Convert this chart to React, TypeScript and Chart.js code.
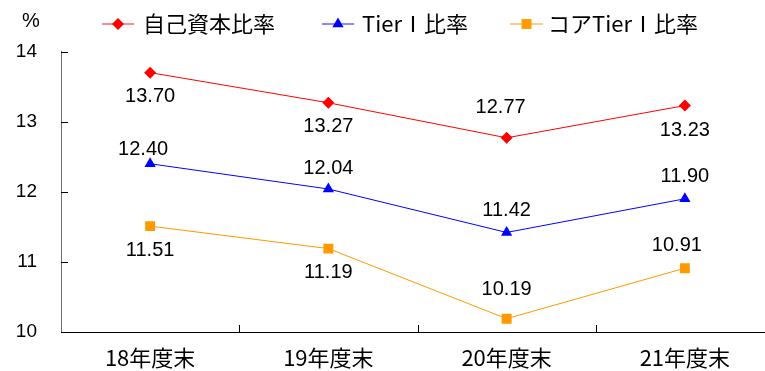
import React, { useEffect, useRef } from "react";
import { Chart, registerables } from "chart.js";

Chart.register(...registerables);

// ---- data ----
const categories = ["18年度末", "19年度末", "20年度末", "21年度末"];
const capitalRatio = [13.7, 13.27, 12.77, 13.23];
const tier1Ratio = [12.4, 12.04, 11.42, 11.9];
const coreTier1Ratio = [11.51, 11.19, 10.19, 10.91];
const seriesNames = ["自己資本比率", "TierⅠ比率", "コアTierⅠ比率"];
const yTicks = [10, 11, 12, 13, 14];
const yUnit = "%";

// ---- styling ----
const lineColors = ["#FF0000", "#0000FF", "#FF9900"];
const legendLineColors = ["#FF8C8C", "#8C8CFF", "#FFCC88"];
const pointStyles = ["rectRot", "triangle", "rect"];
const pointRadii = [6, 6.5, 7];
// label offsets (dx, dy) relative to point
const labelDx = [
  [0, 0, -6, 0],
  [-7, 0, 0, 0],
  [0, 0, 0, -8],
];
const labelDy = [
  [24, 24, -30, 25],
  [-14, -21, -22, -22],
  [24, 24, -29, -23],
];
const legendItems = [
  { x0: 102, x1: 134, tx: 143 },
  { x0: 322, x1: 354, tx: 362 },
  { x0: 510, x1: 543, tx: 548 },
];
const CJK = '"Noto Sans CJK JP", "Noto Sans", sans-serif';
const LAT = '"Liberation Sans", Arial, sans-serif';
const CANVAS_W = 781;

function drawMarker(ctx: CanvasRenderingContext2D, style: string, x: number, y: number, r: number, color: string) {
  ctx.fillStyle = color;
  ctx.beginPath();
  if (style === "rectRot") {
    ctx.moveTo(x, y - r);
    ctx.lineTo(x + r, y);
    ctx.lineTo(x, y + r);
    ctx.lineTo(x - r, y);
  } else if (style === "triangle") {
    ctx.moveTo(x, y - r);
    ctx.lineTo(x + r * 0.866, y + r * 0.5);
    ctx.lineTo(x - r * 0.866, y + r * 0.5);
  } else {
    const s = r * Math.SQRT1_2;
    ctx.rect(x - s, y - s, 2 * s, 2 * s);
  }
  ctx.closePath();
  ctx.fill();
}

const decorPlugin = {
  id: "decor",
  afterDraw(chart: any) {
    const ctx: CanvasRenderingContext2D = chart.ctx;
    const { left, bottom } = chart.chartArea;
    const xs = chart.scales.x;
    const ys = chart.scales.y;
    ctx.save();
    // inward tick marks
    ctx.lineWidth = 1;
    ctx.strokeStyle = "#000";
    yTicks.forEach((v) => {
      const py = Math.round(ys.getPixelForValue(v)) + 0.5;
      ctx.beginPath();
      ctx.moveTo(left, py);
      ctx.lineTo(left + 7, py);
      ctx.stroke();
    });
    for (let i = 1; i < categories.length; i++) {
      const px = Math.round((xs.getPixelForValue(i - 1) + xs.getPixelForValue(i)) / 2) + 0.5;
      ctx.beginPath();
      ctx.moveTo(px, bottom);
      ctx.lineTo(px, bottom - 7);
      ctx.stroke();
    }
    // data labels
    ctx.fillStyle = "#000";
    ctx.font = `20px ${LAT}`;
    ctx.textAlign = "center";
    ctx.textBaseline = "middle";
    chart.data.datasets.forEach((ds: any, di: number) => {
      const meta = chart.getDatasetMeta(di);
      meta.data.forEach((pt: any, i: number) => {
        ctx.fillText(ds.data[i].toFixed(2), pt.x + labelDx[di][i], pt.y + labelDy[di][i]);
      });
    });
    // unit
    ctx.font = `20px ${LAT}`;
    ctx.fillText(yUnit, 31, 21);
    // legend
    const ly = 24;
    legendItems.forEach((it, i) => {
      ctx.strokeStyle = legendLineColors[i];
      ctx.lineWidth = 2;
      ctx.beginPath();
      ctx.moveTo(it.x0, ly);
      ctx.lineTo(it.x1, ly);
      ctx.stroke();
      drawMarker(ctx, pointStyles[i], (it.x0 + it.x1) / 2, ly, pointRadii[i], lineColors[i]);
      ctx.fillStyle = "#000";
      ctx.font = `22px ${CJK}`;
      ctx.textAlign = "left";
      ctx.textBaseline = "middle";
      ctx.fillText(seriesNames[i], it.tx, ly);
    });
    ctx.restore();
  },
};

export default function App() {
  const ref = useRef<HTMLCanvasElement | null>(null);
  useEffect(() => {
    if (!ref.current) return;
    const seriesData = [capitalRatio, tier1Ratio, coreTier1Ratio];
    const chart = new Chart(ref.current, {
      type: "line",
      data: {
        labels: categories,
        datasets: seriesData.map((d, i) => ({
          label: seriesNames[i],
          data: d,
          borderColor: lineColors[i],
          backgroundColor: lineColors[i],
          borderWidth: 1,
          tension: 0,
          pointStyle: pointStyles[i] as any,
          pointRadius: pointRadii[i],
          pointBorderWidth: 0,
          pointBackgroundColor: lineColors[i],
          pointBorderColor: lineColors[i],
        })),
      },
      options: {
        animation: false,
        responsive: false,
        devicePixelRatio: 1,
        layout: { padding: { top: 51.6, left: 0, right: 0, bottom: 0 } },
        plugins: {
          legend: { display: false },
          tooltip: { enabled: false },
          title: { display: false },
        },
        scales: {
          x: {
            type: "category",
            offset: true,
            grid: { display: false, drawTicks: false, offset: true },
            border: { display: true, color: "#000", width: 1 },
            ticks: {
              color: "#000",
              font: { family: CJK, size: 22 },
              padding: 12,
              maxRotation: 0,
            },
            afterFit: (s: any) => {
              s.height = 39;
            },
          },
          y: {
            min: 10,
            max: 14,
            grid: { display: false, drawTicks: false },
            border: { display: true, color: "#707070", width: 1 },
            ticks: {
              stepSize: 1,
              color: "#000",
              font: { family: LAT, size: 19 },
              padding: 24,
            },
            afterFit: (s: any) => {
              s.width = 61;
            },
          },
        },
      },
      plugins: [decorPlugin],
    });
    return () => chart.destroy();
  }, []);
  return (
    <div style={{ position: "fixed", left: 0, top: 0, width: 765, height: 371, overflow: "hidden", background: "#fff" }}>
      <canvas ref={ref} width={CANVAS_W} height={371} style={{ width: CANVAS_W, height: 371, display: "block" }} />
    </div>
  );
}
